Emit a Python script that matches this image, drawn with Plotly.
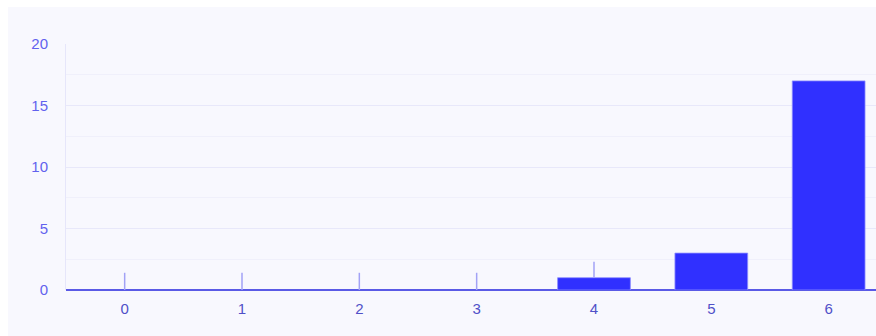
import plotly.graph_objects as go

categories = [0, 1, 2, 3, 4, 5, 6]
values = [0, 0, 0, 0, 1, 3, 17]
errors = [1.4, 1.4, 1.4, 1.4, 1.3, 0, 0]
y_ticks = [0, 5, 10, 15, 20]

W, H = 876, 336
ML, MT, MB, MR = 66, 44, 46, 0
plot_w = W - ML - MR
plot_h = H - MT - MB

line_widths = [1 if v > 0 else 0 for v in values]

fig = go.Figure(
    go.Bar(
        x=categories,
        y=values,
        marker=dict(color="#3030ff", line=dict(color="rgba(140,140,255,0.8)", width=line_widths)),
        error_y=dict(type="data", symmetric=False, array=errors, arrayminus=[0] * len(errors),
                     visible=True, color="#a2a2f6", thickness=1.5, width=0),
        hoverinfo="skip",
    )
)

# lavender card behind the chart (page has a white border at top/left)
fig.add_shape(
    type="rect", xref="paper", yref="paper", layer="below",
    x0=(8 - ML) / plot_w, x1=1.02,
    y0=-(H - MT - plot_h + 5) / plot_h, y1=(MT - 7) / plot_h + 1,
    fillcolor="#f8f8fe", line=dict(width=0),
)

font_family = "Liberation Sans, Arial, sans-serif"
fig.update_layout(
    width=W,
    height=H,
    margin=dict(l=ML, r=MR, t=MT, b=MB, pad=0),
    paper_bgcolor="#ffffff",
    plot_bgcolor="rgba(0,0,0,0)",
    bargap=0.38,
    showlegend=False,
    font=dict(family=font_family, size=15),
    xaxis=dict(
        type="linear",
        range=[-0.5, -0.5 + plot_w / 117.33],
        tickmode="array",
        tickvals=categories,
        ticktext=[str(c) for c in categories],
        showgrid=False,
        zeroline=False,
        showline=False,
        ticks="",
        tickfont=dict(color="#5050c8", size=15),
        ticklabelstandoff=8,
    ),
    yaxis=dict(
        range=[0, 20],
        tickmode="array",
        tickvals=y_ticks,
        showgrid=True,
        gridcolor="#e8e8fa",
        gridwidth=1,
        minor=dict(dtick=2.5, showgrid=True, gridcolor="#f0f0fb", gridwidth=1),
        zeroline=True,
        zerolinecolor="#5a5ae6",
        zerolinewidth=2,
        showline=True,
        linecolor="#e6e6fa",
        linewidth=1,
        ticks="",
        tickfont=dict(color="#6262ee", size=15),
        ticklabelstandoff=14,
    ),
)

fig.write_html(
    "out.html",
    config={"displayModeBar": False, "staticPlot": True},
    post_script="document.body.style.margin='0';document.body.style.overflow='hidden';document.documentElement.style.overflow='hidden';",
)
